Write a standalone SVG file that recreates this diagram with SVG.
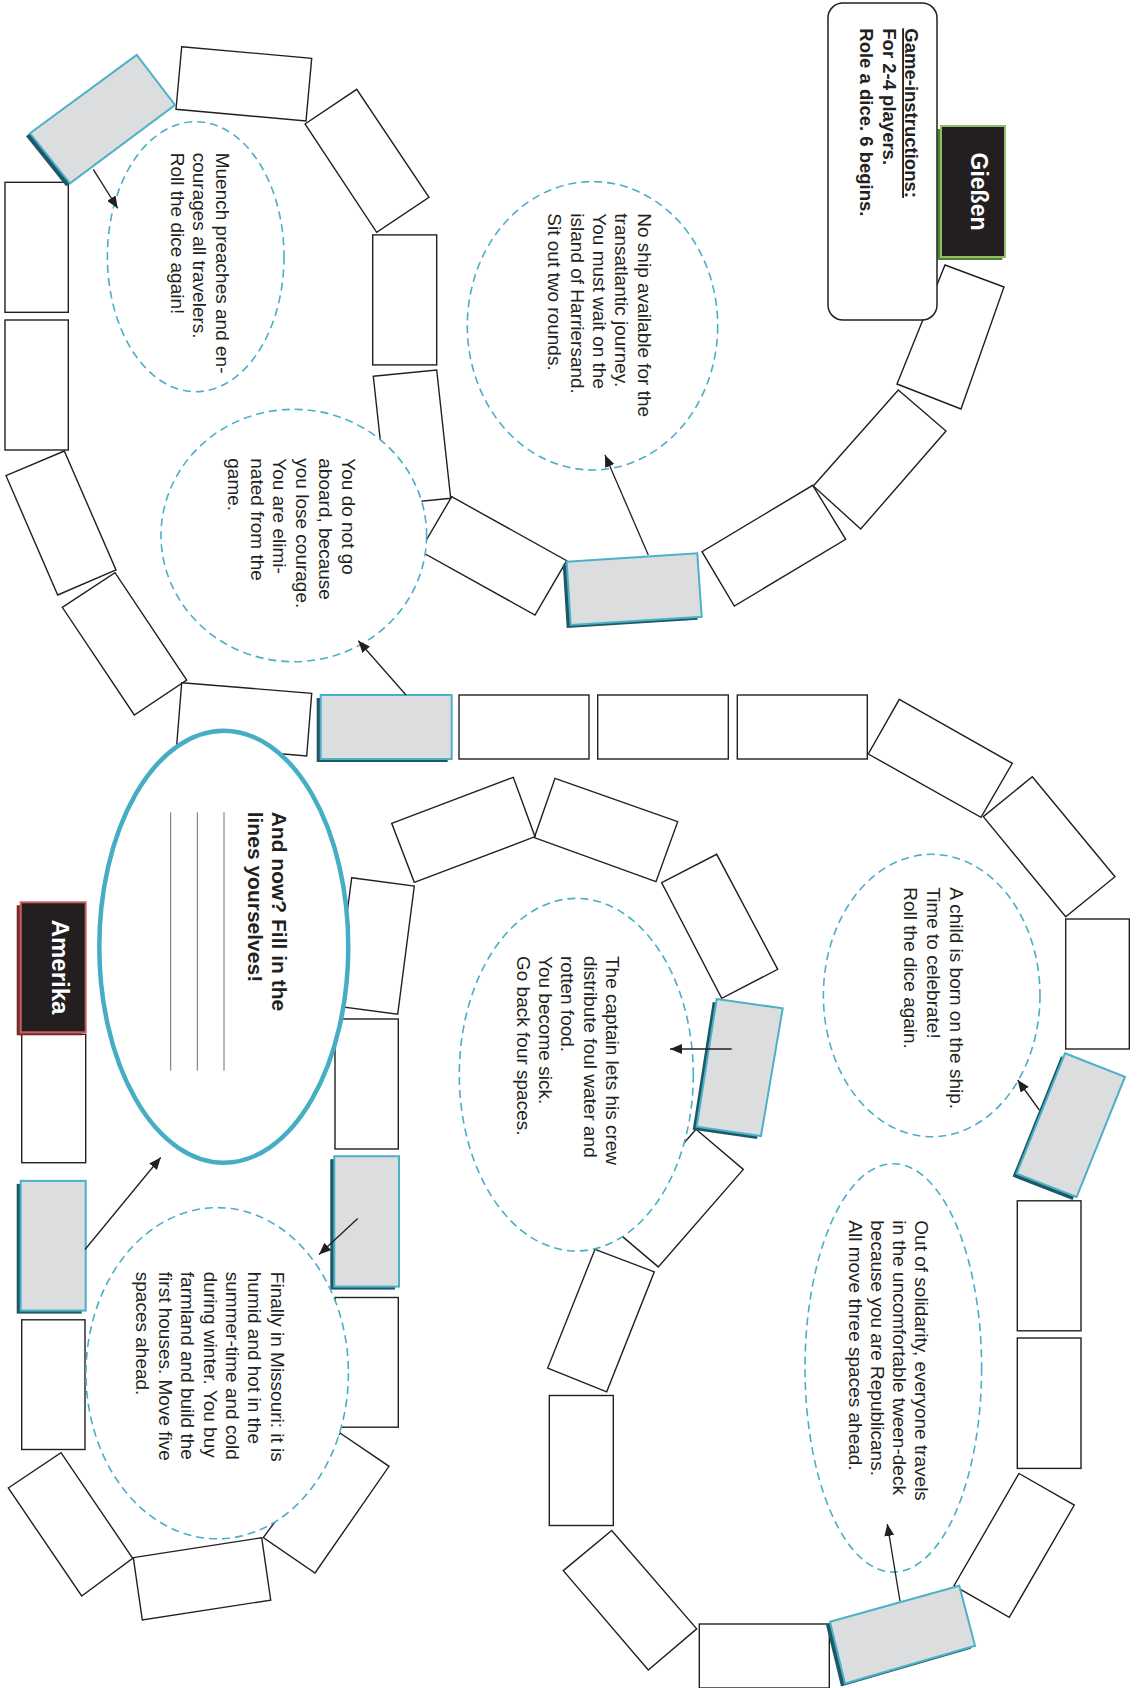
<svg xmlns="http://www.w3.org/2000/svg" width="1139" height="1688" viewBox="0 0 1139 1688">
<defs>
<style>
.t{fill:#fff;stroke:#231f20;stroke-width:1.4}
.s{fill:#dcdddf;stroke:#4bb1c7;stroke-width:2}
.sh{fill:#1c5866}
.e{fill:#fff;stroke:#4aafc5;stroke-width:1.6;stroke-dasharray:8 5}
.txt{font-family:"Liberation Sans",Arial,sans-serif;font-size:19px;fill:#231f20}
.b{font-weight:bold}
.c{stroke:#231f20;stroke-width:1.3;fill:none;marker-end:url(#ah)}
.bl{stroke:#6d6e71;stroke-width:1}
</style>
<marker id="ah" markerUnits="userSpaceOnUse" markerWidth="12" markerHeight="10" refX="12" refY="5" orient="auto">
<path d="M0,0 L12,5 L0,10 z" fill="#231f20"/>
</marker>
</defs>
<rect width="1139" height="1688" fill="#fff"/>

<g id="tiles">
<polygon id="t1" class="t" points="945,265 1004,287 961,409 897,384"/>
<polygon id="t2" class="t" points="898.3,390 946,431 860.7,529 813.3,486"/>
<polygon id="t3" class="t" points="812.7,485.3 845.7,539.3 734.3,606 702,551.7"/>
<polygon id="t5" class="t" points="451.7,496.7 566.7,560.7 535,615 420,551"/>
<polygon id="t6" class="t" points="373.3,376.3 436.7,370 450.7,498.3 387.3,504.6"/>
<rect id="t7" class="t" x="372.7" y="234.9" width="64" height="130"/>
<polygon id="t8" class="t" points="305,124 356.7,89.3 429,197.3 376.7,232.3"/>
<polygon id="t9" class="t" points="181.7,46.7 311.7,58.3 306,121 176,109.3"/>
<rect id="t11" class="t" x="5" y="182.3" width="63.3" height="130"/>
<rect id="t12" class="t" x="5" y="320" width="63.3" height="130"/>
<polygon id="t13" class="t" points="6,475.7 64.3,451 116,570 57.7,595"/>
<polygon id="t14" class="t" points="62.3,607.3 115,572.7 186.7,680 134.3,715"/>
<polygon id="t15" class="t" points="181.7,682.7 311.7,693.3 306.7,756 176.7,745"/>
<rect id="t17" class="t" x="459" y="695" width="130" height="64"/>
<rect id="t18" class="t" x="597.7" y="695" width="130.6" height="64"/>
<rect id="t19" class="t" x="737.3" y="695" width="130" height="64"/>
<polygon id="t20" class="t" points="899.3,699.3 1012.3,763.3 981,817.3 868.3,754"/>
<polygon id="t21" class="t" points="1032.3,776.7 1115,876.7 1065.7,916.7 983.3,816.7"/>
<rect id="t22" class="t" x="1065.7" y="919" width="63.6" height="130"/>
<rect id="t24" class="t" x="1017.3" y="1200.8" width="63.7" height="130"/>
<rect id="t25" class="t" x="1017.3" y="1338" width="63.7" height="130.4"/>
<polygon id="t26" class="t" points="1019,1473.5 1074.3,1505.1 1009.3,1617.3 954,1585.7"/>
<rect id="t28" class="t" x="699.3" y="1624" width="130" height="64"/>
<polygon id="t29" class="t" points="563.3,1570.6 611.7,1530.5 696.7,1628.8 648.3,1670"/>
<rect id="t30" class="t" x="549.3" y="1395.5" width="64" height="130"/>
<polygon id="t31" class="t" points="595,1249.3 654.3,1271.8 606.7,1391.8 547.7,1368.1"/>
<polygon id="t32" class="t" points="696,1129.3 743.3,1169.4 658.3,1266.9 611,1226.8"/>
<polygon id="i1" class="t" points="661.7,882.7 716.7,854.3 777.7,969.3 721.7,998.3"/>
<polygon id="i2" class="t" points="555,778.3 677.7,821.7 656,881.7 534.3,837.7"/>
<polygon id="i3" class="t" points="391.7,823.3 513.3,777.3 535,836.7 414.3,882.3"/>
<polygon id="i4" class="t" points="351.7,877.7 414.3,886 397.7,1014.3 335,1006"/>
<rect id="i5" class="t" x="335" y="1019" width="63.3" height="130"/>
<rect id="m2" class="t" x="335" y="1297.5" width="63.3" height="129.7"/>
<polygon id="b1" class="t" points="340,1433 389,1466.3 315,1573 263.3,1537.7"/>
<polygon id="b2" class="t" points="133.3,1557.6 261.7,1537.7 270.7,1600.1 142.3,1620"/>
<polygon id="b3" class="t" points="8.3,1488 61,1452.6 132.7,1558.3 81.7,1596"/>
<rect id="l1" class="t" x="21.7" y="1319.8" width="63.3" height="129.7"/>
<rect id="l3" class="t" x="21.7" y="1034.3" width="64" height="128.4"/>
</g>

<g id="special-tiles">
<g id="sp-harriersand"><polygon class="sh" transform="translate(-4,3)" points="566.7,561.7 697.3,553.3 701.7,616.7 570.7,625"/><polygon class="s" points="566.7,561.7 697.3,553.3 701.7,616.7 570.7,625"/></g>
<g id="sp-muench"><polygon class="sh" transform="translate(-4,3)" points="30,133.3 136.7,55 175,105 70,183.3"/><polygon class="s" points="30,133.3 136.7,55 175,105 70,183.3"/></g>
<g id="sp-aboard"><rect class="sh" x="316.7" y="698" width="131" height="64"/><rect class="s" x="320.7" y="695" width="131" height="64"/></g>
<g id="sp-child"><polygon class="sh" transform="translate(-4,3)" points="1065,1053.3 1125,1076.7 1076.6,1197 1016.6,1173.6"/><polygon class="s" points="1065,1053.3 1125,1076.7 1076.6,1197 1016.6,1173.6"/></g>
<g id="sp-solidarity"><polygon class="sh" transform="translate(-4,3)" points="830,1621.8 959.3,1585.7 975,1645.8 845,1683.5"/><polygon class="s" points="830,1621.8 959.3,1585.7 975,1645.8 845,1683.5"/></g>
<g id="sp-captain"><polygon class="sh" transform="translate(-4,3)" points="716.7,999 782.7,1008.3 761,1136 696.7,1126.7"/><polygon class="s" points="716.7,999 782.7,1008.3 761,1136 696.7,1126.7"/></g>
<g id="sp-missouri"><rect class="sh" x="330.3" y="1159.2" width="64.7" height="130.4"/><rect class="s" x="334.3" y="1156.2" width="64.7" height="130.4"/></g>
<g id="sp-left"><rect class="sh" x="16.7" y="1183.9" width="65" height="129.7"/><rect class="s" x="20.7" y="1180.9" width="65" height="129.7"/></g>
</g>

<g id="giessen">
<rect x="937.3" y="129" width="65" height="131" fill="#56803a"/>
<rect x="941" y="126" width="64" height="131" fill="#231f20" stroke="#8dbf66" stroke-width="2"/>
<text class="txt b" transform="translate(971,191.5) rotate(90)" text-anchor="middle" font-size="23" fill="#fff" style="fill:#fff;font-size:23px">Gießen</text>
</g>

<g id="amerika">
<rect x="16.7" y="905.3" width="65" height="130" fill="#7a2a2c"/>
<rect x="20.7" y="902.3" width="65" height="130" fill="#231f20" stroke="#c8605f" stroke-width="2"/>
<text class="txt b" transform="translate(52,967) rotate(90)" text-anchor="middle" style="fill:#fff;font-size:24px">Amerika</text>
</g>

<g id="instructions">
<rect x="828" y="3" width="109" height="317" rx="15" fill="#fff" stroke="#231f20" stroke-width="1.5"/>
<text class="txt b" transform="translate(905,28.3) rotate(90)" style="font-size:18.5px"><tspan x="0" y="0" text-decoration="underline">Game-instructions:</tspan><tspan x="0" y="22.5">For 2-4 players.</tspan><tspan x="0" y="45">Role a dice. 6 begins.</tspan></text>
</g>

<g id="muench">
<ellipse class="e" cx="195.7" cy="256.7" rx="88.3" ry="135"/>
<text class="txt" transform="translate(215.5,152.7) rotate(90)"><tspan x="0" y="0">Muench preaches and en-</tspan><tspan x="0" y="22.2">courages all travelers.</tspan><tspan x="0" y="44.4">Roll the dice again!</tspan></text>
</g>

<g id="noship">
<ellipse class="e" cx="592.5" cy="325.8" rx="125.2" ry="144.2"/>
<text class="txt" transform="translate(637.7,213.3) rotate(90)"><tspan x="0" y="0">No ship available for the</tspan><tspan x="0" y="22.4">transatlantic journey.</tspan><tspan x="0" y="44.8">You must wait on the</tspan><tspan x="0" y="67.2">island of Harriersand.</tspan><tspan x="0" y="89.6">Sit out two rounds.</tspan></text>
</g>

<g id="aboard">
<ellipse class="e" cx="293.8" cy="535.5" rx="132.8" ry="126.2"/>
<text class="txt" transform="translate(341.7,458.3) rotate(90)"><tspan x="0" y="0">You do not go</tspan><tspan x="0" y="22.8">aboard, because</tspan><tspan x="0" y="45.6">you lose courage.</tspan><tspan x="0" y="68.4">You are elimi-</tspan><tspan x="0" y="91.2">nated from the</tspan><tspan x="0" y="114">game.</tspan></text>
</g>

<g id="child">
<ellipse class="e" cx="931.7" cy="995.5" rx="108.3" ry="141.2"/>
<text class="txt" transform="translate(950,887.3) rotate(90)"><tspan x="0" y="0">A child is born on the ship.</tspan><tspan x="0" y="23">Time to celebrate!</tspan><tspan x="0" y="46">Roll the dice again.</tspan></text>
</g>

<g id="captain">
<ellipse class="e" cx="576.3" cy="1074.7" rx="117" ry="176.3"/>
<text class="txt" transform="translate(606,956) rotate(90)"><tspan x="0" y="0">The captain lets his crew</tspan><tspan x="0" y="22.3">distribute foul water and</tspan><tspan x="0" y="44.6">rotten food.</tspan><tspan x="0" y="66.9">You become sick.</tspan><tspan x="0" y="89.2">Go back four spaces.</tspan></text>
</g>

<g id="solidarity">
<ellipse class="e" cx="893.3" cy="1367.9" rx="88.3" ry="204.2"/>
<text class="txt" transform="translate(915,1220.3) rotate(90)"><tspan x="0" y="0">Out of solidarity, everyone travels</tspan><tspan x="0" y="21.9">in the uncomfortable tween-deck</tspan><tspan x="0" y="43.8">because you are Republicans.</tspan><tspan x="0" y="65.7">All move three spaces ahead.</tspan></text>
</g>

<g id="missouri">
<ellipse class="e" cx="217.2" cy="1373.2" rx="131.2" ry="165.6"/>
<text class="txt" transform="translate(270.7,1271.8) rotate(90)"><tspan x="0" y="0">Finally in Missouri: it is</tspan><tspan x="0" y="22.4">humid and hot in the</tspan><tspan x="0" y="44.8">summer-time and cold</tspan><tspan x="0" y="67.2">during winter. You buy</tspan><tspan x="0" y="89.6">farmland and build the</tspan><tspan x="0" y="112">first houses. Move five</tspan><tspan x="0" y="134.4">spaces ahead.</tspan></text>
</g>

<g id="andnow">
<ellipse cx="223.8" cy="946.7" rx="124.5" ry="216" fill="#fff" stroke="#45adc4" stroke-width="4.5"/>
<text class="txt b" transform="translate(271.7,811.7) rotate(90)" style="font-size:21px"><tspan x="0" y="0">And now? Fill in the</tspan><tspan x="0" y="24">lines yourselves!</tspan></text>
<line class="bl" x1="224" y1="812.3" x2="224" y2="1070.7"/>
<line class="bl" x1="197.3" y1="812.3" x2="197.3" y2="1070.7"/>
<line class="bl" x1="170.7" y1="812.3" x2="170.7" y2="1070.7"/>
</g>

<g id="connectors">
<line class="c" x1="93.3" y1="169.3" x2="117.7" y2="208.3"/>
<line class="c" x1="648.3" y1="555" x2="605" y2="455"/>
<line class="c" x1="406" y1="695" x2="358.3" y2="640.7"/>
<line class="c" x1="1039.3" y1="1110" x2="1017.7" y2="1080"/>
<line class="c" x1="731.7" y1="1049" x2="670" y2="1049"/>
<line class="c" x1="900" y1="1601.2" x2="887.3" y2="1524"/>
<line class="c" x1="357.7" y1="1218.6" x2="319" y2="1254.6"/>
<line class="c" x1="85" y1="1249.5" x2="160.7" y2="1157.5"/>
</g>
</svg>
